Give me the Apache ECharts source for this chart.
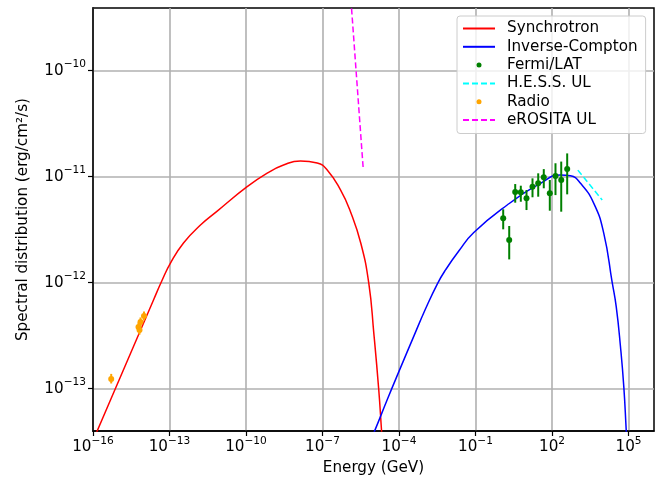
<!DOCTYPE html>
<html><head><meta charset="utf-8">
<script src="https://cdn.jsdelivr.net/npm/echarts@6/dist/echarts.min.js"></script>
<style>html,body{margin:0;padding:0;background:#fff}#c{width:659px;height:477px}</style>
</head><body><div id="c"></div>
<script>
// ---- data (Energy in GeV, flux in erg/cm^2/s) ----
const syncE = [7.94e-17, 4.85e-16, 2.36e-14, 5.18e-14, 1.09e-13, 3.54e-13, 1.64e-12, 7.43e-12, 1.11e-10, 6.78e-10, 2.96e-9, 1.37e-8, 6.19e-8, 1.53e-7, 5.08e-7, 1.25e-6, 3.16e-6, 6.55e-6, 1.03e-5, 1.61e-5, 2.06e-5, 2.25e-5];
const syncF = [2.84e-14, 7.82e-14, 6.87e-13, 1.06e-12, 1.53e-12, 2.37e-12, 3.50e-12, 4.74e-12, 8.05e-12, 1.08e-11, 1.29e-11, 1.41e-11, 1.35e-11, 1.16e-11, 7.50e-12, 4.68e-12, 2.37e-12, 9.86e-13, 3.33e-13, 9.72e-14, 4.08e-14, 2.94e-14];
const icE = [7.69e-6, 1.12e-5, 3.54e-5, 1.15e-4, 3.54e-4, 1.09e-3, 3.24e-3, 6.67e-3, 2.21e-2, 8.57e-2, 1.75, 35.4, 215, 531, 1312, 4355, 1.074e4, 2.30e4, 3.30e4, 4.85e4, 6.55e4, 8.13e4, 8.73e4];
const icF = [3.28e-14, 4.02e-14, 8.0e-14, 1.58e-13, 3.0e-13, 5.65e-13, 9.82e-13, 1.32e-12, 1.99e-12, 2.98e-12, 5.41e-12, 8.67e-12, 1.04e-11, 1.02e-11, 8.67e-12, 5.61e-12, 2.92e-12, 1.0e-12, 5.94e-13, 2.49e-13, 1.04e-13, 4.07e-14, 2.94e-14];
const fermiE = [1.22, 2.10, 3.61, 5.98, 10.0, 17.2, 28.8, 47.6, 82.0, 137, 230, 394];
const fermiF = [4.06e-12, 2.53e-12, 7.18e-12, 7.13e-12, 6.25e-12, 8.05e-12, 8.67e-12, 9.87e-12, 6.97e-12, 1.016e-11, 9.31e-12, 1.18e-11];
const fermiLo = [3.19e-12, 1.66e-12, 5.69e-12, 5.81e-12, 4.85e-12, 6.40e-12, 6.48e-12, 7.78e-12, 4.78e-12, 6.71e-12, 4.68e-12, 6.82e-12];
const fermiHi = [4.93e-12, 3.43e-12, 8.53e-12, 8.23e-12, 7.50e-12, 9.66e-12, 1.077e-11, 1.18e-11, 9.31e-12, 1.34e-11, 1.39e-11, 1.66e-11];
const hessE = [1.03e3, 9.3e3];
const hessF = [1.155e-11, 6.03e-12];
const radioE = [5.18e-16, 6.08e-15, 6.67e-15, 7.3e-15, 1.0e-14];
const radioF = [1.236e-13, 3.82e-13, 3.58e-13, 4.26e-13, 4.85e-13];
const radioLo = [1.12e-13, 3.45e-13, 3.24e-13, 3.86e-13, 4.40e-13];
const radioHi = [1.38e-13, 4.22e-13, 3.96e-13, 4.70e-13, 5.35e-13];
const erositaE = [1.3e-6, 3.94e-6];
const erositaF = [4.7e-10, 1.2e-11];
const xTicks = [-16, -13, -10, -7, -4, -1, 2, 5];
const yTicks = [-13, -12, -11, -10];

const L = Math.log10;
const pts = (xs, ys) => xs.map((x, i) => [L(x), L(ys[i])]);
const bars = (xs, lo, hi) => xs.map((x, i) => [L(x), L(lo[i]), L(hi[i])]);
const FONT = 'DejaVu Sans';
const FS = 15.2;
function powLabel(v) {
  const e = Math.round(v);
  const s = e < 0 ? '\u2212' + (-e) : '' + e;
  return '{b|10}{s|' + s + '}';
}
const rich = {
  b: {fontSize: FS, fontFamily: FONT, color: '#000'},
  s: {fontSize: 10.6, fontFamily: FONT, color: '#000', padding: [0, 0, 12, 0]}
};
function errSeries(data, color) {
  return {
    type: 'custom', data: data, z: 3, silent: true,
    encode: {x: 0, y: [1, 2]},
    renderItem: function (params, api) {
      const p1 = api.coord([api.value(0), api.value(1)]);
      const p2 = api.coord([api.value(0), api.value(2)]);
      return {type: 'line', shape: {x1: p1[0], y1: p1[1], x2: p2[0], y2: p2[1]},
        style: {stroke: color, lineWidth: 2}};
    }
  };
}
const hideSym = {opacity: 0};
const chart = echarts.init(document.getElementById('c'), null, {renderer: 'canvas'});
chart.setOption({
  animation: false,
  backgroundColor: '#fff',
  textStyle: {fontFamily: FONT},
  grid: {left: 93, right: 5, top: 8, bottom: 46, containLabel: false, outerBoundsMode: 'none',
    show: true, borderColor: '#000', borderWidth: 1.5, backgroundColor: 'transparent'},
  xAxis: {
    type: 'value', min: -16, max: 6,
    name: 'Energy (GeV)', nameLocation: 'middle', nameGap: 30,
    nameTextStyle: {fontSize: FS, fontFamily: FONT, color: '#000'},
    axisLine: {show: true, onZero: false, lineStyle: {color: '#000', width: 1.5}},
    axisTick: {show: true, length: 5, lineStyle: {color: '#000', width: 1.2}, customValues: xTicks},
    axisLabel: {customValues: xTicks, formatter: powLabel, rich: rich, margin: 5},
    splitLine: {show: true, lineStyle: {color: '#b0b0b0', width: 1.6}}
  },
  yAxis: {
    type: 'value', min: -13.399, max: -9.408, z: 2,
    name: 'Spectral distribution (erg/cm\u00b2/s)', nameLocation: 'middle', nameGap: 62,
    nameTextStyle: {fontSize: FS, fontFamily: FONT, color: '#000'},
    axisLine: {show: true, onZero: false, lineStyle: {color: '#000', width: 1.5}},
    axisTick: {show: true, length: 5, lineStyle: {color: '#000', width: 1.2}, customValues: yTicks},
    axisLabel: {customValues: yTicks, formatter: powLabel, rich: rich, margin: 7},
    splitLine: {show: true, lineStyle: {color: '#b0b0b0', width: 1.6}}
  },
  legend: {
    data: [
      {name: 'Synchrotron', itemStyle: hideSym},
      {name: 'Inverse-Compton', itemStyle: hideSym},
      {name: 'Fermi/LAT'},
      {name: 'H.E.S.S. UL', itemStyle: hideSym},
      {name: 'Radio'},
      {name: 'eROSITA UL', itemStyle: hideSym}
    ],
    orient: 'vertical', left: 457, top: 16,
    padding: [5, 8, 6, 5], itemWidth: 32, itemHeight: 5, itemGap: 3.3,
    backgroundColor: 'rgba(255,255,255,0.8)', borderColor: '#cccccc', borderWidth: 1, borderRadius: 3,
    textStyle: {fontSize: FS, fontFamily: FONT, color: '#000', lineHeight: 15, padding: [0, 0, 0, 7]}
  },
  series: [
    {name: 'Synchrotron', type: 'line', data: pts(syncE, syncF), symbol: 'none', smooth: 0.5, z: 2,
      lineStyle: {color: '#ff0000', width: 1.5}, itemStyle: {color: '#ff0000'}},
    {name: 'Inverse-Compton', type: 'line', data: pts(icE, icF), symbol: 'none', smooth: 0.5, z: 2,
      lineStyle: {color: '#0000ff', width: 1.5}, itemStyle: {color: '#0000ff'}},
    errSeries(bars(fermiE, fermiLo, fermiHi), '#008000'),
    {name: 'Fermi/LAT', type: 'scatter', data: pts(fermiE, fermiF), symbol: 'circle', symbolSize: 6, z: 4,
      itemStyle: {color: '#008000', opacity: 1}},
    {name: 'H.E.S.S. UL', type: 'line', data: pts(hessE, hessF), symbol: 'none', z: 4,
      lineStyle: {color: '#00ffff', width: 1.5, type: [6, 3]}, itemStyle: {color: '#00ffff'}},
    errSeries(bars(radioE, radioLo, radioHi), '#ffa500'),
    {name: 'Radio', type: 'scatter', data: pts(radioE, radioF), symbol: 'circle', symbolSize: 6, z: 4,
      itemStyle: {color: '#ffa500', opacity: 1}},
    {name: 'eROSITA UL', type: 'line', data: pts(erositaE, erositaF), symbol: 'none', z: 4,
      lineStyle: {color: '#ff00ff', width: 1.5, type: [6, 3]}, itemStyle: {color: '#ff00ff'}}
  ]
});
</script>
</body></html>
